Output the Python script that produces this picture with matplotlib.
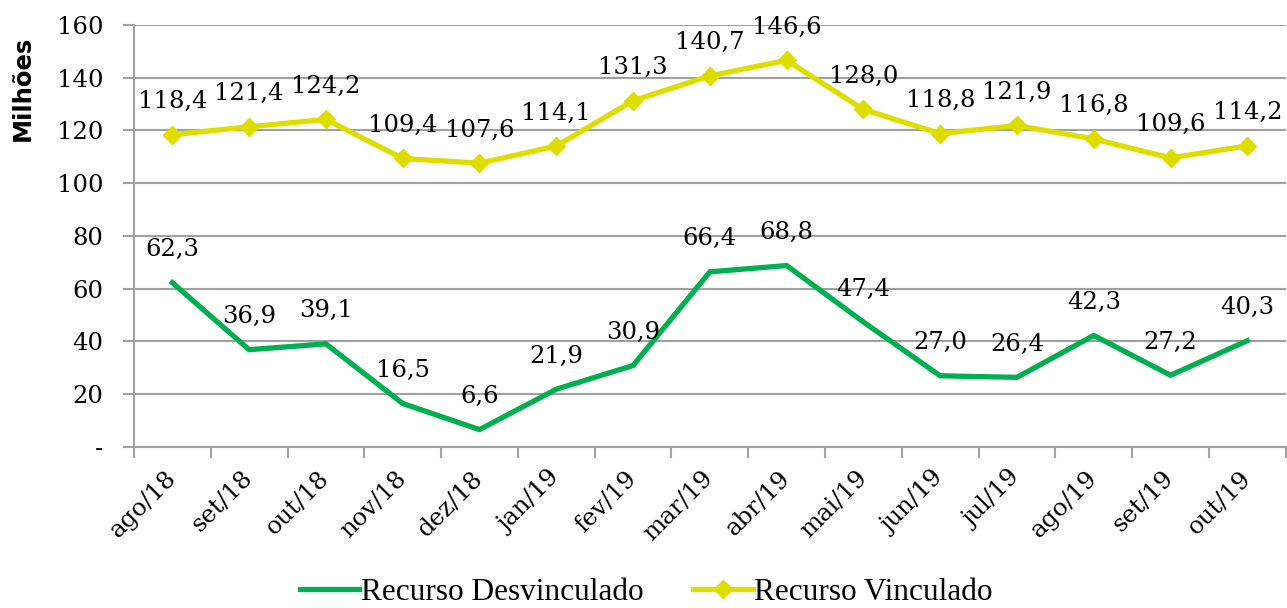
import matplotlib.pyplot as plt
from matplotlib.ticker import FixedLocator

MESES = ["ago/18", "set/18", "out/18", "nov/18", "dez/18", "jan/19", "fev/19",
         "mar/19", "abr/19", "mai/19", "jun/19", "jul/19", "ago/19", "set/19", "out/19"]
DESVINCULADO = [62.3, 36.9, 39.1, 16.5, 6.6, 21.9, 30.9, 66.4, 68.8, 47.4,
                27.0, 26.4, 42.3, 27.2, 40.3]
VINCULADO = [118.4, 121.4, 124.2, 109.4, 107.6, 114.1, 131.3, 140.7, 146.6, 128.0,
             118.8, 121.9, 116.8, 109.6, 114.2]
Y_TICKS = [0, 20, 40, 60, 80, 100, 120, 140, 160]
Y_LABELS = ["-", "20", "40", "60", "80", "100", "120", "140", "160"]

VERDE = "#00B050"
AMARELO = "#DDDD00"
CINZA = "#A0A0A0"
SERIF = "DejaVu Serif"


def fmt(v):
    return f"{v:.1f}".replace(".", ",")


fig = plt.figure(figsize=(12.87, 6.08), dpi=100)
ax = fig.add_axes([0.1041, 0.2648, 0.8949, 0.6941])

x = list(range(len(MESES)))
ax.plot(x, DESVINCULADO, color=VERDE, lw=3.8, solid_joinstyle="miter",
        label="Recurso Desvinculado", zorder=3)
ax.plot(x, VINCULADO, color=AMARELO, lw=3.8, marker="D", markersize=9,
        label="Recurso Vinculado", zorder=3)

# rotulos de dados, acima de cada ponto
for serie in (DESVINCULADO, VINCULADO):
    for xi, v in zip(x, serie):
        ax.annotate(fmt(v), (xi, v), xytext=(0, 33), textcoords="offset pixels",
                    ha="center", va="center", fontsize=17.5, family=SERIF,
                    annotation_clip=False, zorder=4)

ax.set_xlim(-0.5, len(MESES) - 0.5)
ax.set_ylim(0, 160)

ax.set_yticks(Y_TICKS)
ax.set_yticklabels(Y_LABELS, fontsize=17.5, family=SERIF)
ax.grid(axis="y", color=CINZA, lw=1.5)
ax.set_axisbelow(True)

ax.set_xticks(x)
ax.set_xticklabels(MESES, fontsize=17.5, family=SERIF, rotation=45,
                   ha="right", va="center", rotation_mode="anchor")
ax.xaxis.set_minor_locator(FixedLocator([i - 0.5 for i in range(len(MESES) + 1)]))
ax.tick_params(axis="x", which="major", length=0, pad=20)
ax.tick_params(axis="x", which="minor", length=8, width=1.5, color=CINZA)
ax.tick_params(axis="y", length=8, width=1.5, color=CINZA, pad=14)

for s in ("top", "right"):
    ax.spines[s].set_visible(False)
for s in ("left", "bottom"):
    ax.spines[s].set_color(CINZA)
    ax.spines[s].set_linewidth(1.5)

fig.text(0.018, 0.855, "Milhões", rotation=90, ha="center", va="center",
         fontsize=17.5, fontweight="bold", family="DejaVu Sans")

fig.legend(loc="center", bbox_to_anchor=(0.502, 0.026), ncol=2, frameon=False,
           prop={"family": "Liberation Serif", "size": 22.5}, handlelength=1.9,
           handletextpad=0.05, columnspacing=1.6, borderpad=0.2)

fig.savefig("out.png", dpi=100)
